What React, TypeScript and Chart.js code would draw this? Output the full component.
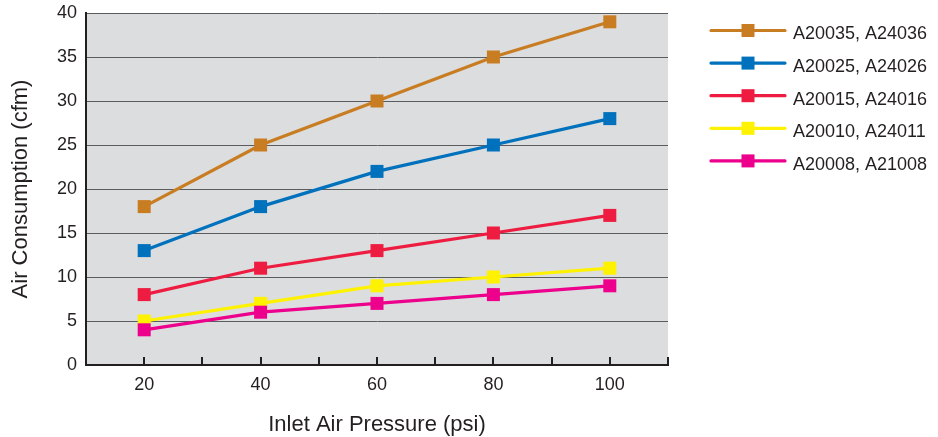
import React, { useEffect, useRef } from "react";
import { Chart, registerables } from "chart.js";

Chart.register(...registerables);

const pressures = [20, 40, 60, 80, 100];
const seriesLabels = [
  "A20035, A24036",
  "A20025, A24026",
  "A20015, A24016",
  "A20010, A24011",
  "A20008, A21008",
];
const seriesColors = ["#c97d23", "#0071bc", "#ed1c40", "#fff200", "#ec008c"];
const s20035 = [18, 25, 30, 35, 39];
const s20025 = [13, 18, 22, 25, 28];
const s20015 = [8, 11, 13, 15, 17];
const s20010 = [5, 7, 9, 10, 11];
const s20008 = [4, 6, 7, 8, 9];
const seriesValues = [s20035, s20025, s20015, s20010, s20008];
const xMin = 10;
const xMax = 110;
const yTicks = [0, 5, 10, 15, 20, 25, 30, 35, 40];

const FONT = "'Liberation Sans', Arial, sans-serif";
const TEXT = "#231f20";

const bgPlugin = {
  id: "plotBg",
  beforeDraw(chart: any) {
    const { ctx, chartArea } = chart;
    ctx.save();
    ctx.fillStyle = "#dcdddf";
    ctx.fillRect(chartArea.left, chartArea.top, chartArea.right - chartArea.left, chartArea.bottom - chartArea.top);
    ctx.restore();
  },
};

const tickPlugin = {
  id: "innerTicks",
  afterDatasetsDraw(chart: any) {
    const { ctx, chartArea } = chart;
    const xs = chart.scales.x;
    ctx.save();
    ctx.strokeStyle = TEXT;
    ctx.lineWidth = 2;
    xs.ticks.forEach((t: any) => {
      const px = Math.round(xs.getPixelForValue(t.value));
      ctx.beginPath();
      ctx.moveTo(px, chartArea.bottom - 8);
      ctx.lineTo(px, chartArea.bottom);
      ctx.stroke();
    });
    ctx.restore();
  },
};

const legendPlugin = {
  id: "sideLegend",
  afterDraw(chart: any) {
    const { ctx } = chart;
    ctx.save();
    chart.data.datasets.forEach((ds: any, i: number) => {
      const y = 30.5 + i * 32.6;
      ctx.strokeStyle = ds.borderColor;
      ctx.lineWidth = 3.2;
      ctx.lineCap = "round";
      ctx.beginPath();
      ctx.moveTo(711, y);
      ctx.lineTo(785, y);
      ctx.stroke();
      ctx.fillStyle = ds.borderColor;
      ctx.fillRect(748 - 6.5, y - 6.5, 13, 13);
      ctx.fillStyle = TEXT;
      ctx.font = `18px ${FONT}`;
      ctx.textBaseline = "middle";
      ctx.textAlign = "left";
      ctx.fillText(ds.label, 793, y + 4);
    });
    ctx.restore();
  },
};

export default function App() {
  const ref = useRef<HTMLCanvasElement>(null);
  useEffect(() => {
    document.body.style.margin = "0";
    if (!ref.current) return;
    const chart = new Chart(ref.current, {
      type: "line",
      data: {
        datasets: seriesLabels.map((label, i) => ({
          label,
          data: pressures.map((p, j) => ({ x: p, y: seriesValues[i][j] })),
          borderColor: seriesColors[i],
          backgroundColor: seriesColors[i],
          borderWidth: 3.2,
          pointStyle: "rect",
          pointRadius: 9.2,
          pointBorderWidth: 0,
          pointHoverRadius: 9.2,
          order: seriesLabels.length - i,
          fill: false,
          tension: 0,
        })),
      },
      options: {
        animation: false,
        responsive: true,
        maintainAspectRatio: false,
        layout: { padding: { top: 13, right: 270, bottom: 0, left: 0 } },
        plugins: {
          legend: { display: false },
          tooltip: { enabled: false },
        },
        scales: {
          x: {
            type: "linear",
            min: xMin,
            max: xMax,
            afterFit: (s: any) => {
              s.height = 72;
              s.paddingLeft = 0;
              s.paddingRight = 0;
            },
            ticks: {
              stepSize: 10,
              autoSkip: false,
              maxRotation: 0,
              padding: 9,
              color: TEXT,
              font: { family: FONT, size: 18 },
              callback: (v: any) => (pressures.includes(Number(v)) ? String(v) : ""),
            },
            grid: { display: false, drawTicks: false },
            border: { display: true, color: TEXT, width: 2 },
            title: {
              display: true,
              text: "Inlet Air Pressure (psi)",
              color: TEXT,
              font: { family: FONT, size: 22, lineHeight: 1 },
              padding: { top: 0, bottom: 1 },
            },
          },
          y: {
            min: 0,
            max: 40,
            afterFit: (s: any) => {
              s.width = 86;
              s.paddingTop = 0;
              s.paddingBottom = 0;
            },
            afterBuildTicks: (s: any) => {
              s.ticks = yTicks.map((v) => ({ value: v }));
            },
            ticks: {
              padding: 9,
              color: TEXT,
              font: { family: FONT, size: 18 },
            },
            grid: { color: "#5b5c5e", lineWidth: 1, drawTicks: false, tickLength: 0 },
            border: { display: true, color: TEXT, width: 2 },
            title: {
              display: true,
              text: "Air Consumption (cfm)",
              color: TEXT,
              font: { family: FONT, size: 22, lineHeight: 1 },
              padding: { top: 10, bottom: 0 },
            },
          },
        },
      },
      plugins: [bgPlugin, tickPlugin, legendPlugin],
    });
    return () => chart.destroy();
  }, []);
  return (
    <div style={{ width: 938, height: 437, position: "relative" }}>
      <canvas ref={ref} />
    </div>
  );
}
